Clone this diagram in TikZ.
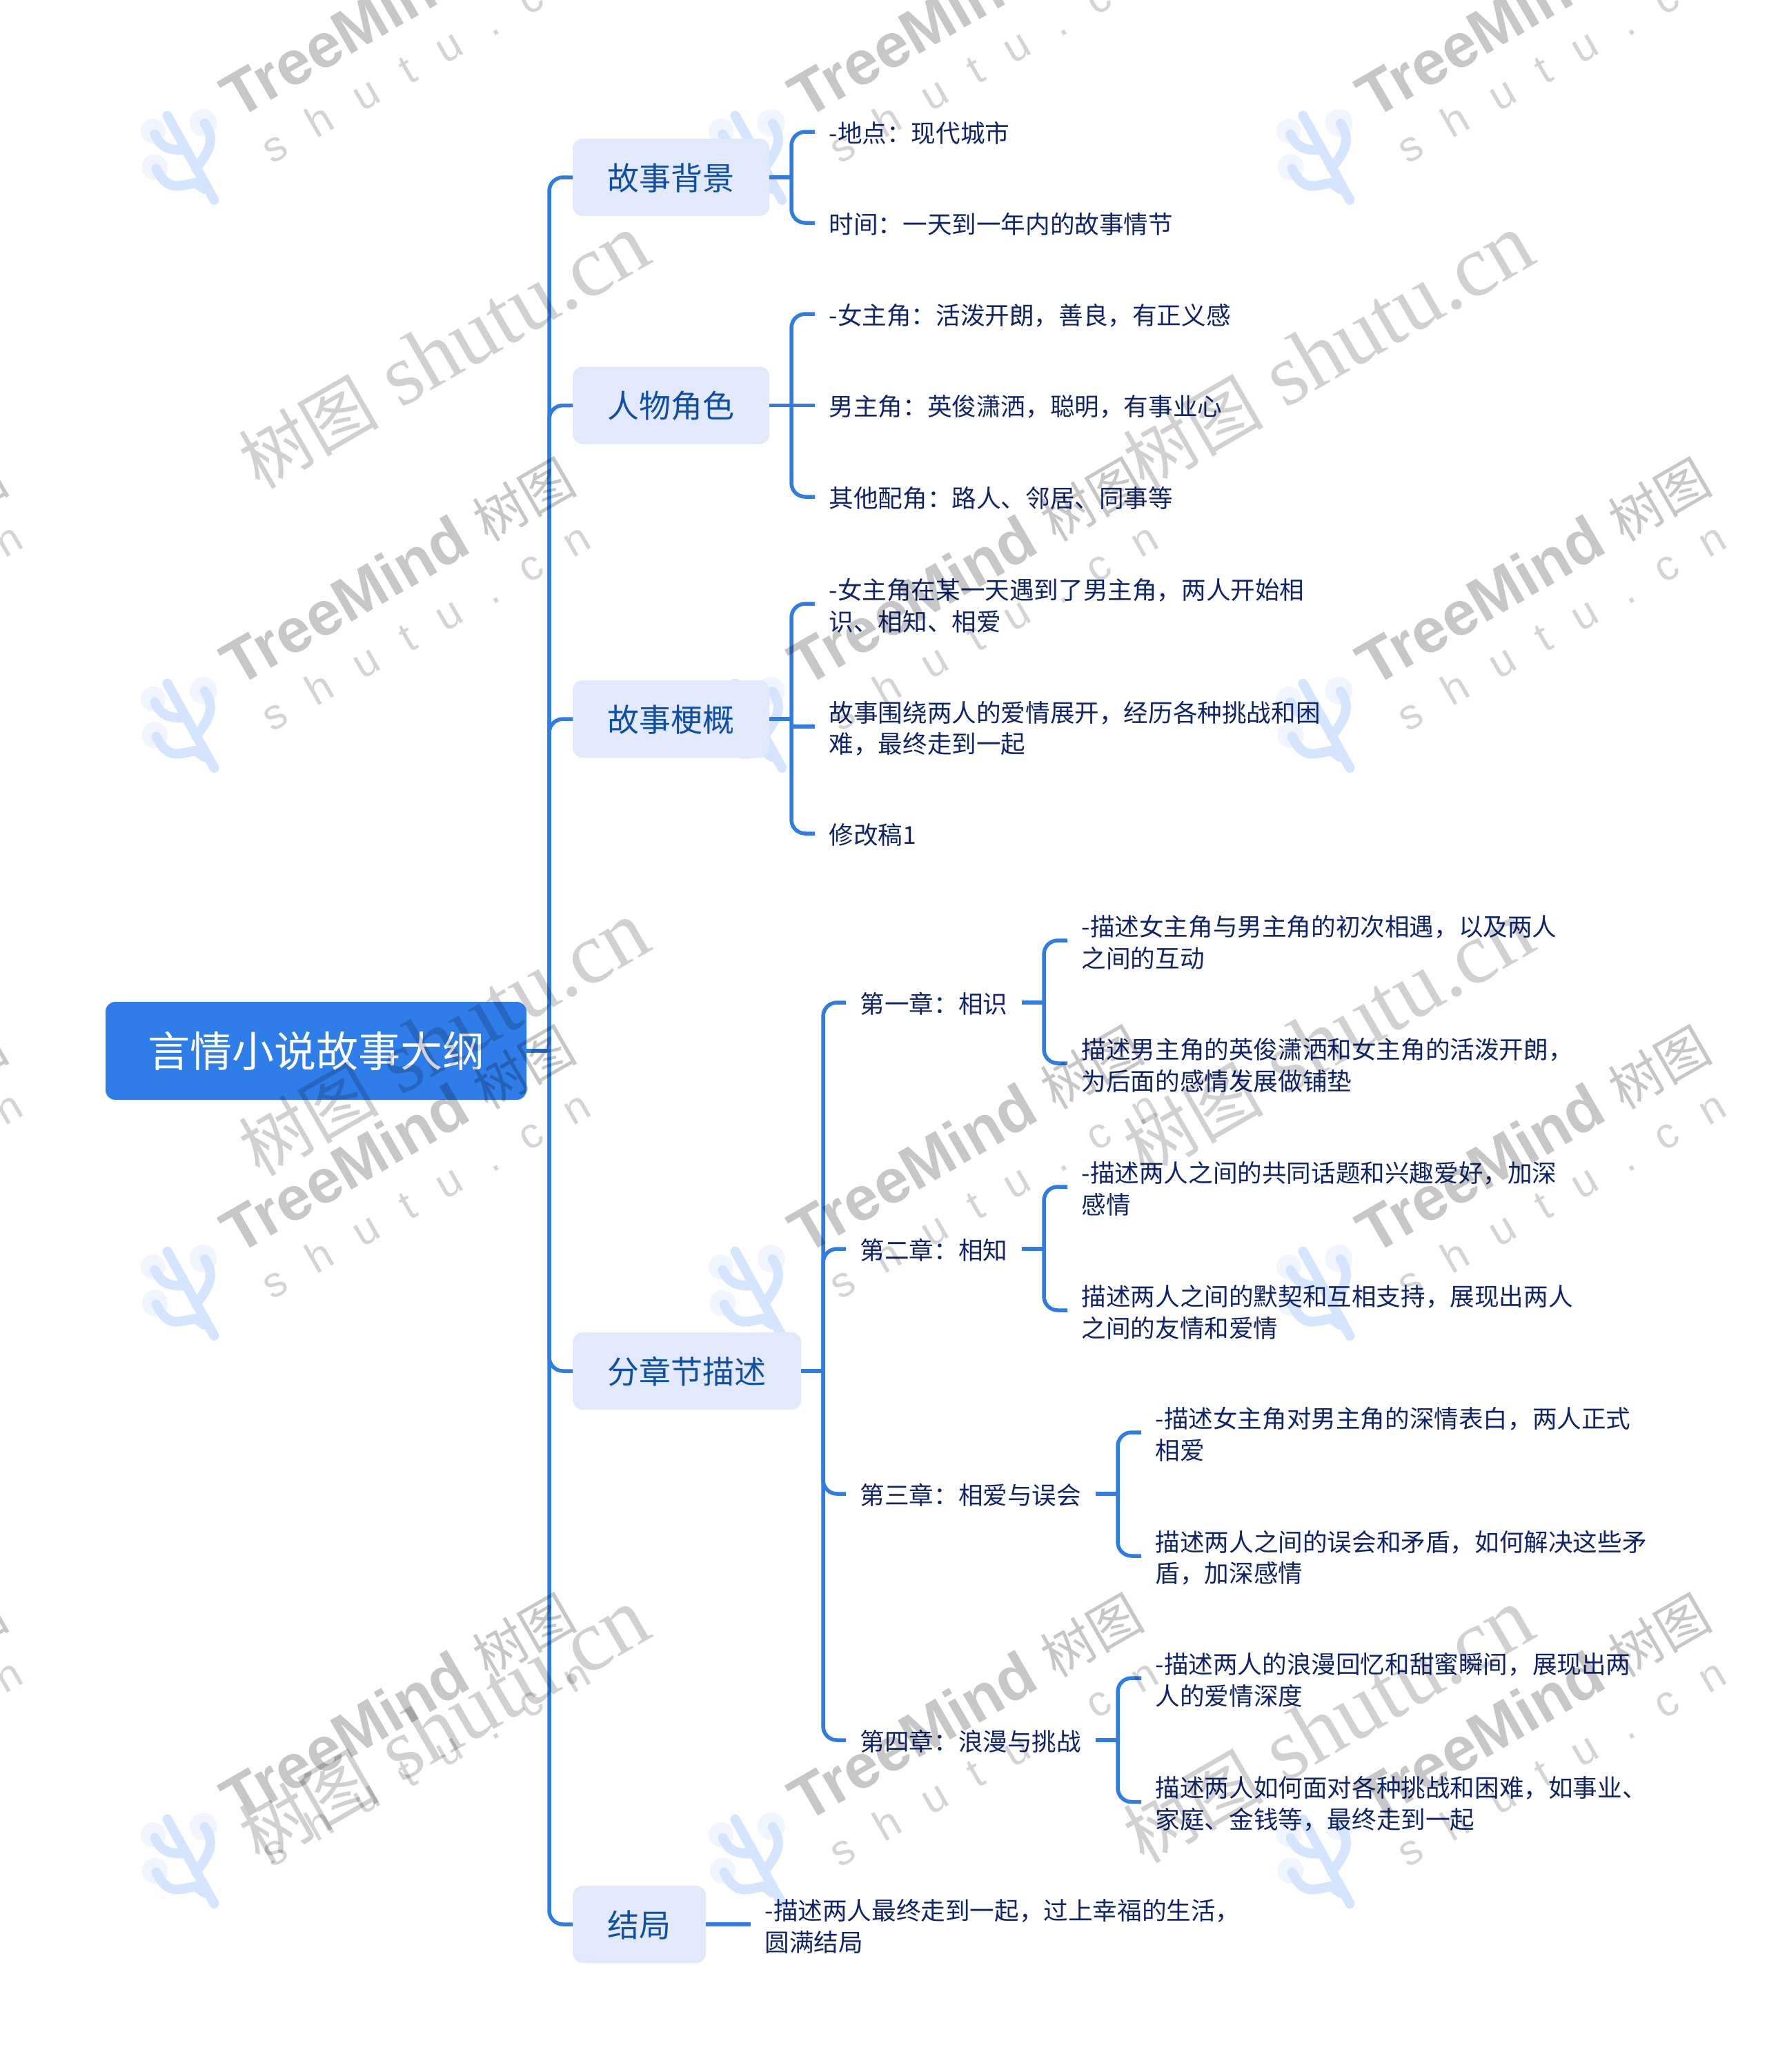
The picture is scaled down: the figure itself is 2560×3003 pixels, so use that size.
\documentclass[tikz,border=0pt]{standalone}
\usepackage{fontspec}
\setmainfont{Liberation Sans}
\newfontfamily\cjk{Noto Sans CJK SC}
\newfontfamily\wmsans{Liberation Sans}
\newfontfamily\wmspaced[LetterSpace=70]{Liberation Sans}
\newfontfamily\wmserif{Liberation Serif}
\definecolor{rootblue}{HTML}{2F7DE8}
\definecolor{wireblue}{HTML}{2F7DE1}
\definecolor{topicfill}{HTML}{E2E9FB}
\definecolor{topicink}{HTML}{0F4FA8}
\definecolor{leafink}{HTML}{10246E}
\definecolor{logoblue}{HTML}{D5E5FF}
\definecolor{logohalo}{HTML}{F0F5FF}
\newcommand{\qcomma}{^^^^ff0c}
\newcommand{\qcolon}{^^^^ff1a}
\newcommand{\lineA}[1]{\rule[-9.5pt]{0pt}{45.5pt}#1}
\newcommand{\oneln}[1]{\rule[-5.5pt]{0pt}{41.5pt}#1}
\newcommand{\twoln}[2]{\lineA{#1}\\\rule[-3.5pt]{0pt}{39.5pt}#2}
\tikzset{
  rootnode/.style={draw=none,fill=rootblue,rounded corners=14pt,text=white,anchor=center,
    minimum width=610pt,minimum height=142pt,inner sep=0pt,text height=53pt,text depth=7pt,
    font=\cjk\fontsize{61}{70}\selectfont},
  topicnode/.style={draw=none,fill=topicfill,rounded corners=14pt,text=topicink,anchor=west,
    minimum height=112pt,inner xsep=50.5pt,inner ysep=0pt,text height=40pt,text depth=3.5pt,
    font=\cjk\fontsize{46}{50}\selectfont},
  leafnode/.style={anchor=west,align=left,text=leafink,inner xsep=20.5pt,inner ysep=0pt,
    font=\cjk\fontsize{35.6}{45.5}\selectfont},
  wire/.style={draw=wireblue,line width=5.5pt,rounded corners=20pt},
  wmtree/.style={anchor=base west,rotate=30,inner sep=0pt,text=black,text opacity=0.22,
    font=\wmsans\bfseries\fontsize{90}{90}\selectfont},
  wmline/.style={anchor=base west,rotate=30,inner sep=0pt,text=black,text opacity=0.17,
    font=\wmspaced\fontsize{62}{62}\selectfont},
  wmsite/.style={anchor=base east,rotate=30,inner sep=0pt,text=black,text opacity=0.18,
    font=\wmserif\fontsize{127}{127}\selectfont},
  logostroke/.style={draw=logoblue,line width=14pt,line cap=round},
}
\begin{document}
\begin{tikzpicture}[x=1pt,y=-1pt]
\useasboundingbox (0,0) rectangle (2560,3003);
\fill[white] (0,0) rectangle (2560,3003);

% logos lie under the diagram
\begin{scope}
\clip (0,0) rectangle (2560,3003);
\foreach \px in {-479,344,1167,1990} \foreach \py in {174,997,1820,2643} {
  \begin{scope}[shift={(\px,\py)}]
    \fill[logohalo] (-49.4,4) circle[radius=20];
    \fill[logohalo] (-122,16) circle[radius=18];
    \fill[logohalo] (-119.6,68.3) circle[radius=19];
    \draw[logostroke] (-101.5,-6.4) -- (-33.6,115.9);
    \draw[logostroke] (-47.2,4.9) .. controls (-34,25) and (-36,40) .. (-60,70);
    \draw[logostroke] (-119.6,20.7) .. controls (-110,40) and (-100,44) .. (-74,43.4);
    \draw[logostroke] (-117.4,70.6) .. controls (-100,105) and (-85,95) .. (-60.7,91) -- (-48,100);
  \end{scope}
}
\end{scope}

% root and topics
\node[rootnode] (root) at (458,1523) {言情小说故事大纲};
\node[topicnode] (t1) at (830,257) {故事背景};
\node[topicnode] (t2) at (830,587.5) {人物角色};
\node[topicnode] (t3) at (830,1042) {故事梗概};
\node[topicnode] (t4) at (830,1987) {分章节描述};
\node[topicnode] (t5) at (830,2789) {结局};

% leaves of first-level topics
\node[leafnode] (a1) at (1181,191) {\oneln{-地点\qcolon{}现代城市}};
\node[leafnode] (a2) at (1181,323) {\oneln{时间\qcolon{}一天到一年内的故事情节}};
\node[leafnode] (b1) at (1181,455) {\oneln{-女主角\qcolon{}活泼开朗\qcomma{}善良\qcomma{}有正义感}};
\node[leafnode] (b2) at (1181,587.5) {\oneln{男主角\qcolon{}英俊潇洒\qcomma{}聪明\qcomma{}有事业心}};
\node[leafnode] (b3) at (1181,720) {\oneln{其他配角\qcolon{}路人、邻居、同事等}};
\node[leafnode] (c1) at (1181,875) {\twoln{-女主角在某一天遇到了男主角\qcomma{}两人开始相}{识、相知、相爱}};
\node[leafnode] (c2) at (1181,1053) {\twoln{故事围绕两人的爱情展开\qcomma{}经历各种挑战和困}{难\qcomma{}最终走到一起}};
\node[leafnode] (c3) at (1181,1208) {\oneln{修改稿1}};

% chapters
\node[leafnode] (ch1) at (1226,1453) {\oneln{第一章\qcolon{}相识}};
\node[leafnode] (ch2) at (1226,1810) {\oneln{第二章\qcolon{}相知}};
\node[leafnode] (ch3) at (1226,2165) {\oneln{第三章\qcolon{}相爱与误会}};
\node[leafnode] (ch4) at (1226,2522) {\oneln{第四章\qcolon{}浪漫与挑战}};

\node[leafnode] (d1) at (1547,1363) {\twoln{-描述女主角与男主角的初次相遇\qcomma{}以及两人}{之间的互动}};
\node[leafnode] (d2) at (1547,1541) {\twoln{描述男主角的英俊潇洒和女主角的活泼开朗\qcomma{}}{为后面的感情发展做铺垫}};
\node[leafnode] (e1) at (1547,1720) {\twoln{-描述两人之间的共同话题和兴趣爱好\qcomma{}加深}{感情}};
\node[leafnode] (e2) at (1547,1899) {\twoln{描述两人之间的默契和互相支持\qcomma{}展现出两人}{之间的友情和爱情}};
\node[leafnode] (f1) at (1654,2076) {\twoln{-描述女主角对男主角的深情表白\qcomma{}两人正式}{相爱}};
\node[leafnode] (f2) at (1654,2255) {\twoln{描述两人之间的误会和矛盾\qcomma{}如何解决这些矛}{盾\qcomma{}加深感情}};
\node[leafnode] (g1) at (1654,2432) {\twoln{-描述两人的浪漫回忆和甜蜜瞬间\qcomma{}展现出两}{人的爱情深度}};
\node[leafnode] (g2) at (1654,2611.5) {\twoln{描述两人如何面对各种挑战和困难\qcomma{}如事业、}{家庭、金钱等\qcomma{}最终走到一起}};
\node[leafnode] (h1) at (1088,2789) {\twoln{-描述两人最终走到一起\qcomma{}过上幸福的生活\qcomma{}}{圆满结局}};

% bus junctions
\coordinate (trunk) at (796,1523);
\coordinate (busA) at (1147,257);
\coordinate (busB) at (1147,587.5);
\coordinate (busC) at (1147,1042);
\coordinate (busD) at (1193,1987);
\coordinate (bus1) at (1513,1453);
\coordinate (bus2) at (1513,1810);
\coordinate (bus3) at (1620,2165);
\coordinate (bus4) at (1620,2522);

% connectors
\draw[wire] (root.east) -- (trunk);
\foreach \t in {t1,t2,t3,t4,t5} \draw[wire] (trunk) |- (\t.west);

\draw[wire] (t1.east) -- (busA);
\draw[wire] (busA) |- (a1.west);
\draw[wire] (busA) |- (a2.west);

\draw[wire] (t2.east) -- (b2.west);
\draw[wire] (busB) |- (b1.west);
\draw[wire] (busB) |- (b3.west);

\draw[wire] (t3.east) -- (busC);
\draw[wire] (busC) |- (c1.west);
\draw[wire] (busC) |- (c3.west);
\draw[wire] (c2.west -| busC) -- (c2.west);

\draw[wire] (t4.east) -- (busD);
\foreach \c in {ch1,ch2,ch3,ch4} \draw[wire] (busD) |- (\c.west);

\draw[wire] (ch1.east) -- (bus1);
\draw[wire] (bus1) |- (d1.west);
\draw[wire] (bus1) |- (d2.west);
\draw[wire] (ch2.east) -- (bus2);
\draw[wire] (bus2) |- (e1.west);
\draw[wire] (bus2) |- (e2.west);
\draw[wire] (ch3.east) -- (bus3);
\draw[wire] (bus3) |- (f1.west);
\draw[wire] (bus3) |- (f2.west);
\draw[wire] (ch4.east) -- (bus4);
\draw[wire] (bus4) |- (g1.west);
\draw[wire] (bus4) |- (g2.west);

\draw[wire] (t5.east) -- (h1.west);

% grey watermark text lies over the diagram
\begin{scope}
\clip (0,0) rectangle (2560,3003);
\foreach \px [count=\i] in {-479,344,1167,1990} \foreach \py [count=\j] in {174,997,1820,2643} {
  \node[wmtree] (wmt\i\j) at (\px,\py) {TreeMind {\cjk\mdseries\fontsize{76}{76}\selectfont 树图}};
  \node[wmline] (wml\i\j) at ({\px+50},{\py+64.5}) {shutu.cn};
}
\foreach \ex [count=\i] in {950,2232} \foreach \ey [count=\j] in {379,1375,2371} {
  \node[wmsite] (wms\i\j) at (\ex,\ey) {{\cjk\fontsize{102}{102}\selectfont 树图} shutu.cn};
}
\end{scope}
\end{tikzpicture}
\end{document}
